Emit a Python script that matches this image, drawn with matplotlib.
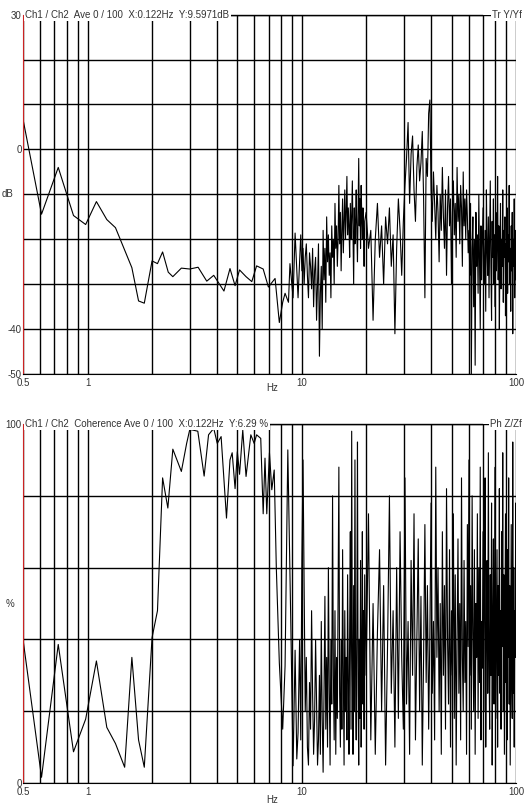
import numpy as np
import matplotlib
matplotlib.use("Agg")
import matplotlib.pyplot as plt

plt.rcParams['font.family'] = ['Liberation Sans', 'DejaVu Sans']

DF = 0.122
# ---------- top panel: transfer magnitude (dB) ----------
tr_low_f = [0.5, 0.61, 0.73, 0.86, 0.98, 1.1, 1.23, 1.35, 1.61, 1.73, 1.84, 2.0, 2.12, 2.24, 2.38,
            2.5, 2.74, 3.0, 3.28, 3.6, 3.88, 4.33, 4.62, 4.88, 5.12, 5.49, 5.84, 6.15, 6.6, 6.98,
            7.5, 7.85, 8.14, 8.35, 8.66, 8.8, 9.1, 9.3, 9.6]
tr_low = [6.7, -14.4, -4, -14.7, -16.7, -11.6, -15.6, -17.4, -26.3, -33.7, -34.2, -24.8, -25.4,
          -22.8, -27.3, -28.3, -26.4, -26.6, -26.2, -29.3, -28, -31.5, -26.5, -30.3, -26.8, -28.3,
          -29.4, -25.9, -26.6, -30.6, -28.7, -38.5, -34, -32, -34, -25.4, -33, -18.6, -33]
tr_mid = [-25, -19, -27, -22, -30, -24, -21, -28, -33, -23, -26, -31, -22, -35, -27, -24, -38, -30, -21, -46, -32,
          -26, -40, -18, -29, -22, -34, -15, -25, -19, -28, -23, -33, -17, -24, -20, -30, -12, -22, -17, -26, -20,
          -8, -21, -14, -27, -18, -11, -23, -16, -9, -20, -14, -6, -19, -13, -17, -24,
          -12, -20, -15, -7, -18, -30, -13, -21, -16, -9, -19, -25, -14, -2, -17, -11, -22, -8, -15, -20, -13, -18, -26, -16]
tr_high = [-14, -22, -18, -38, -20, -12, -24, -17, -30, -15, -21,
           -13, -26, -19, -41, -22, -11, -18, -28, -16,
           -8, -2, 6, -12, -1, 3, -9, -16, -4, 1, -7, -3, 4, -11, -33, -2, -6, 8, 11,
           -9, -16, -5, -12, -20, -8, -14, -25, -10, -18, -4, -15, -22, -9, -28, -13, -6, -17, -11, -30, -14, -7, -19,
           -12, -24, -4, -16, -10, -21, -8, -13, -26, -5, -17, -11, -20, -9, -15, -23,
           -18, -28, -12, -50, -22, -15, -35, -20, -48, -14, -26, -19, -32, -10, -24, -40, -17, -29, -21,
           -13, -25, -30, -18, -36, -9, -22, -28, -15, -33, -20, -7, -26, -38, -16, -24, -11, -30, -19, -35, -14, -27,
           -21, -6, -29, -17, -40, -23, -12, -31, -20, -26, -9, -34, -18, -24, -15, -37, -21, -28, -13, -32, -19, -25,
           -8, -30, -22, -36, -17, -27, -14, -41, -20, -26, -11, -33, -23, -18, -29]

# ---------- bottom panel: coherence (%) ----------
co_low_f = [0.5, 0.61, 0.73, 0.86, 0.98, 1.1, 1.23, 1.35, 1.49, 1.61, 1.73, 1.84, 2.0, 2.12, 2.24, 2.37,
            2.5, 2.74, 2.9, 3.0, 3.27, 3.5, 3.67, 3.88, 4.03, 4.2, 4.45, 4.62, 4.73, 4.88, 5.0, 5.12, 5.3,
            5.49, 5.78, 5.99, 6.15, 6.43, 6.6, 6.73, 6.86, 7.06, 7.24, 7.43, 7.6, 7.85, 8.14, 8.35, 8.6,
            8.88, 9.1, 9.3, 9.47, 9.6]
co_low = [40, 1.6, 38.6, 8.7, 17.8, 34, 15.5, 11, 4.4, 35, 12, 4.4, 40.5, 48, 85, 76.6, 93, 86.8, 94.6,
          98.5, 98, 85.5, 97, 98.8, 94.6, 96.5, 73.8, 90, 92, 82, 92.3, 86, 98.3, 85.4, 97, 94.6, 97, 96,
          75, 90.5, 75, 92, 81.7, 87.2, 60, 33.5, 15, 32.6, 92.8, 44.6, 4.8, 37, 6.7, 14]
co_mid = [40, 12, 62, 90, 55, 20, 35, 10, 5, 28, 15, 48, 25, 8, 18, 40, 22, 5, 12, 30, 8,
          45, 18, 3, 25, 52, 15, 35, 10, 60, 28, 5, 40, 22, 80, 30, 12, 48, 8, 35, 18, 55,
          88, 25, 10, 40, 15, 65, 30, 5, 48, 20, 35, 12, 58, 28, 8, 42,
          70, 15, 98, 35, 8, 55, 20, 90, 30, 12, 45, 95, 25, 5, 40, 18, 62, 10, 33, 70, 22, 48, 15, 58]
co_high = [30, 75, 12, 50, 8, 42, 65, 20, 55, 5, 38,
           80, 25, 48, 10, 60, 18, 70, 35, 15,
           85, 22, 45, 8, 62, 30, 75, 12, 40, 68, 20, 52, 5, 35, 72, 28, 55, 15, 42,
           78, 25, 45, 12, 88, 35, 60, 20, 50, 8, 70, 30, 55, 15, 82, 40, 22, 65, 10, 48, 30, 75, 18, 58, 5, 40,
           68, 25, 50, 12, 85, 35, 20, 62, 28, 45, 8, 72, 38,
           90, 30, 55, 15, 80, 42, 20, 65, 8, 50, 35, 75, 18, 60, 28, 88, 12, 45, 32,
           70, 20, 50, 85, 10, 40, 62, 25, 92, 35, 15, 58, 30, 78, 5, 45, 68, 22, 52, 88, 18, 40, 65, 10, 55, 30,
           82, 25, 48, 15, 70, 38, 92, 20, 58, 8, 45, 75, 28, 50, 12, 65, 35, 85, 22, 55, 5, 42, 72, 30, 18, 95,
           25, 60, 10, 48, 35, 78, 40]


def series(low_f, low, mid, high):
    f_mid = 9.76 + DF * np.arange(len(mid))
    f_high = np.linspace(f_mid[-1] + 0.3, 100, len(high))
    return (np.concatenate([np.array(low_f), f_mid, f_high]),
            np.array(low + mid + high, float))


fig = plt.figure(figsize=(5.28, 8.10), dpi=100)
minor = [0.6, 0.7, 0.8, 0.9, 2, 3, 4, 5, 6, 7, 8, 9, 20, 30, 40, 50, 60, 70, 80, 90]
fs = 7
tc = '#333333'


def setup(ax, ylim, yt, ylabels, title, rtitle):
    ax.set_xscale('log')
    ax.set_xlim(0.5, 100)
    ax.set_ylim(*ylim)
    ax.set_xticks([0.5, 1, 10, 100])
    ax.set_xticklabels(['0.5', '1', '10', '100'], fontsize=fs, color=tc)
    ax.set_xticks(minor, minor=True)
    ax.set_xticklabels([], minor=True)
    ax.set_yticks(yt)
    ax.set_yticklabels(ylabels, fontsize=fs, color=tc)
    ax.tick_params(which='both', length=0, pad=1)
    ax.tick_params(axis='x', pad=3)
    ax.grid(True, which='both', color='black', lw=1)
    ax.set_axisbelow(True)
    for s in ['right', 'top']:
        ax.spines[s].set_visible(False)
    ax.spines['left'].set_color('#cc2222')
    ax.spines['bottom'].set_color('black')
    ax.text(0.005, 1.0, title, transform=ax.transAxes, fontsize=fs, va='center', ha='left',
            color=tc, bbox=dict(facecolor='white', edgecolor='none', pad=1))
    ax.text(1.012, 1.0, rtitle, transform=ax.transAxes, fontsize=fs, va='center', ha='right',
            color=tc, bbox=dict(facecolor='white', edgecolor='none', pad=1))
    ax.plot([0.41, 0.93], [1, 1], transform=ax.transAxes, color='black', lw=1, clip_on=False, zorder=1)


ax1 = fig.add_axes([0.0436, 0.538, 0.934, 0.444])
f, v = series(tr_low_f, tr_low, tr_mid, tr_high)
ax1.plot(f, v, color='black', lw=0.8)
setup(ax1, (-50, 30), list(range(-50, 31, 10)),
      ['-50', '-40', '', '', '', '0', '', '', '30'],
      'Ch1 / Ch2  Ave 0 / 100  X:0.122Hz  Y:9.5971dB', 'Tr Y/Yf')

ax2 = fig.add_axes([0.0436, 0.0333, 0.934, 0.4432])
f, v = series(co_low_f, co_low, co_mid, co_high)
ax2.plot(f, v, color='black', lw=0.8)
setup(ax2, (0, 100), list(range(0, 101, 20)),
      ['0', '', '', '', '', '100'],
      'Ch1 / Ch2  Coherence Ave 0 / 100  X:0.122Hz  Y:6.29 %', 'Ph Z/Zf')

fig.text(8 / 528, 1 - 194 / 810, 'dB', fontsize=fs, color=tc, ha='center', va='center')
fig.text(10 / 528, 1 - 604 / 810, '%', fontsize=fs, color=tc, ha='center', va='center')
fig.text(272 / 528, 1 - 388 / 810, 'Hz', fontsize=fs, color=tc, ha='center', va='center')
fig.text(272 / 528, 1 - 800 / 810, 'Hz', fontsize=fs, color=tc, ha='center', va='center')

fig.savefig('out.png', dpi=100)
